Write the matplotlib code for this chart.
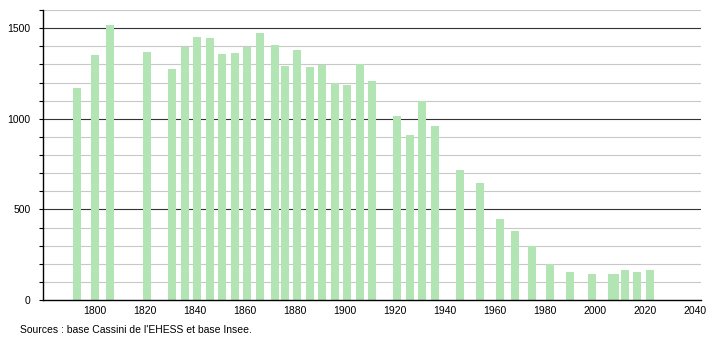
import numpy as np
import matplotlib
matplotlib.use("Agg")
import matplotlib.pyplot as plt
from matplotlib.ticker import MultipleLocator

# Données : années de recensement et population
annees = [1793, 1800, 1806, 1821, 1831, 1836, 1841, 1846, 1851, 1856,
          1861, 1866, 1872, 1876, 1881, 1886, 1891, 1896, 1901, 1906,
          1911, 1921, 1926, 1931, 1936, 1946, 1954, 1962, 1968, 1975,
          1982, 1990, 1999, 2007, 2008, 2012, 2017, 2022]
population = [1167, 1352, 1518, 1370, 1274, 1398, 1452, 1446, 1357, 1363,
              1398, 1474, 1405, 1291, 1380, 1286, 1299, 1199, 1186, 1300,
              1210, 1014, 909, 1099, 959, 715, 646, 449, 382, 296,
              198, 152, 144, 144, 144, 163, 152, 166]
ticks_x = list(range(1800, 2041, 20))
ticks_y = [0, 500, 1000, 1500]
source = "Sources : base Cassini de l'EHESS et base Insee."

plt.rcParams['font.family'] = ['Liberation Sans', 'DejaVu Sans']

fig = plt.figure(figsize=(7.1, 3.4), dpi=100)
ax = fig.add_axes([43/710, 1-300/340, (700.7-43)/710, 290/340])

# Grille : fine tous les 100, foncée tous les 500
for v in range(100, 1601, 100):
    if v % 500 == 0:
        ax.axhline(v, color='#333333', lw=0.8, zorder=1)
    else:
        ax.axhline(v, color='#c8c8c8', lw=0.8, zorder=1)

ax.bar(annees, population, width=3.2, color='#b3e4b3', zorder=2)

ax.set_xlim(1779.2, 2042.3)
ax.set_ylim(0, 1600)
ax.set_xticks(ticks_x)
ax.set_yticks(ticks_y)
ax.yaxis.set_minor_locator(MultipleLocator(100))
ax.tick_params(axis='x', length=0, labelsize=7.5, pad=4)
ax.tick_params(axis='y', which='both', length=3, width=0.8, labelsize=7.5, pad=6)

for s in ['top', 'right']:
    ax.spines[s].set_visible(False)
ax.spines['left'].set_linewidth(1)
ax.spines['bottom'].set_linewidth(1)

fig.text(20/710, 1-330/340, source, fontsize=7.5, va='center', ha='left')

fig.savefig('out.png', dpi=100)
